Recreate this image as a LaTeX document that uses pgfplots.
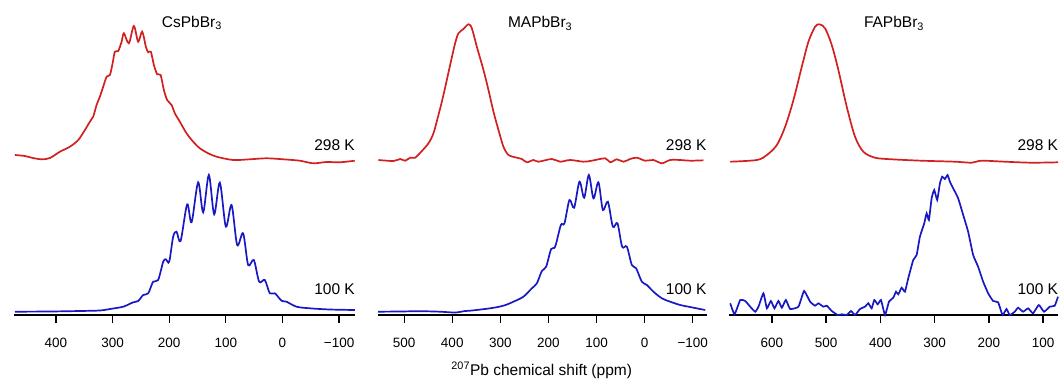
\documentclass[border=0pt]{standalone}
\usepackage{pgfplots}
\pgfplotsset{compat=1.18}
\usepackage{fontspec}
\setmainfont{Liberation Sans}
\definecolor{nred}{RGB}{210,32,32}
\definecolor{nblue}{RGB}{24,24,196}
\newcommand{\lbl}{\fontsize{15.5}{18}\selectfont}
\pgfplotsset{
  nmr/.style={
    scale only axis, height=315pt,
    axis y line=none, axis x line*=bottom,
    x axis line style={-, line width=1.8pt},
    x dir=reverse,
    ymin=0, ymax=315,
    ytick=\empty,
    tick align=outside,
    major tick length=8pt,
    xtick style={black, line width=1.3pt},
    xticklabel style={font=\fontsize{13.5}{15}\selectfont, yshift=-12pt},
    clip=false,
    enlargelimits=false,
  },
  redline/.style={nred, line width=1.7pt, smooth, tension=0.5},
  blueline/.style={nblue, line width=1.7pt, smooth, tension=0.5},
}
\begin{document}
\begin{tikzpicture}[x=1pt,y=1pt]
\useasboundingbox (0,0) rectangle (1062,381);
% ---------------- CsPbBr3 ----------------
\begin{axis}[nmr, at={(14pt,66pt)}, anchor=south west, width=341pt,
  xmin=-128, xmax=474, xtick={-100,0,100,200,300,400},
  xticklabels={−100,0,100,200,300,400}]
\addplot[redline] coordinates {
(472.4,160)(454.7,159)(440.6,157)(424.7,155.7)(410.6,157)(392.9,163.3)(375.3,168.3)
(360.6,175)(348.8,185)(340,193.3)(334.2,198.3)(328.2,210)(322.4,218.3)(316.5,228.3)
(310.5,238.3)(304.7,240)(299.9,251.7)(295.9,263.3)(290,264)(284,273.3)(280,281.7)
(271.2,271.7)(262.4,289)(254.8,273.3)(247.7,283.3)(241.2,268.3)(237.1,262.7)(232.4,263.3)
(227,250)(221.2,240.7)(215.2,240)(209.4,225)(203.6,215)(195.8,210)(190,201.7)
(181.2,193.3)(169.4,181.7)(157.7,173.3)(145.9,166.7)(131.2,161.7)(116.4,158.3)
(87.1,155)(57.6,155.7)(28.2,156.7)(-1.1,155.7)(-30.6,154.3)(-54.1,151.7)(-77.7,153)
(-101.2,152.7)(-127.6,154.3)};
\addplot[blueline] coordinates {
(472.4,3.3)(410.6,3.5)(357.6,4)(322.4,4.5)(304.7,6)(281.2,8.3)(263.6,12.7)(254.8,14)
(245.9,20)(237.1,21.7)(228.3,33.3)(219.5,35)(210.6,53.3)(205.9,55.7)(200,53.3)
(193,78.3)(187,83.3)(179.9,74)(168.3,110.7)(160.5,92.7)(148.9,132.7)(140,102.7)
(130,140)(120.6,100.7)(110.6,132.3)(100,88.3)(89.9,110)(80,70)(69.5,81.7)(60.6,50)
(50.6,55)(41.2,33.3)(31.2,35)(22.4,21.7)(13.5,21.7)(1.7,14.3)(-7.1,13.3)(-24.8,8.3)
(-48.2,6.7)(-83.5,5.5)(-127.6,5)};
\node[anchor=base, inner sep=0, font=\lbl] at (axis cs:160,287.7) {CsPbBr\textsubscript{3}};
\node[anchor=base east, inner sep=0, font=\lbl] at (axis cs:-128,164.3) {298 K};
\node[anchor=base east, inner sep=0, font=\lbl] at (axis cs:-128,21) {100 K};
\end{axis}
% ---------------- MAPbBr3 ----------------
\begin{axis}[nmr, at={(377.7pt,66pt)}, anchor=south west, width=329pt,
  xmin=-129, xmax=555, xtick={-100,0,100,200,300,400,500},
  xticklabels={−100,0,100,200,300,400,500}]
\addplot[redline] coordinates {
(553.4,155)(522.2,154)(508.3,156)(497.9,154.3)(487.5,157.3)(477.1,157.3)(463.2,164)
(449.5,171.7)(439.1,181.7)(428.7,200)(418.3,220)(404.4,250)(394,271.7)(387.1,281.7)
(376.7,286)(366.3,290.7)(359.3,286.7)(348.9,268.3)(335.1,245)(324.7,225)(314.3,203.3)
(303.9,185)(293.6,168.3)(283.2,160)(269.2,157.7)(255.3,156)(244.9,152.7)(231.2,155)
(220.8,153.3)(192.9,156)(175.7,153.3)(154.9,155)(127.2,153.3)(109.8,154.3)(82.1,156.7)
(71.7,152.7)(57.8,155.7)(44,153.3)(30.1,156)(16.2,157.3)(-1.1,154.3)(-18.3,155)
(-35.8,151.7)(-53,155)(-73.8,155)(-94.6,154.3)(-122.3,154.7)};
\addplot[blueline] coordinates {
(554.1,3.3)(508.3,3.5)(466.7,3.8)(425.2,3.3)(394,2.5)(373.2,4)(362.8,4.3)(321.2,6.7)
(293.6,9.3)(272.8,13.3)(252,18.3)(234.5,26.7)(224.1,31.7)(213.7,44)(204.8,48.3)
(194.4,66)(186.1,68.3)(174.2,90)(166.7,91.7)(156.3,115)(146.6,107.3)(135.5,133.3)
(125.8,117.3)(116,140)(106.4,116.7)(96.1,132.7)(86.9,105)(76.5,113.3)(66.1,88.3)
(56.5,91.7)(46.8,68.3)(37,68.3)(26.6,50)(17.7,46.7)(5.8,33.3)(-4.6,30)(-18.3,23.3)
(-35.8,16.7)(-53,13.3)(-73.8,10)(-91.1,8.3)(-125.8,5)};
\node[anchor=base, inner sep=0, font=\lbl] at (axis cs:217.3,287) {MAPbBr\textsubscript{3}};
\node[anchor=base east, inner sep=0, font=\lbl] at (axis cs:-129,164.3) {298 K};
\node[anchor=base east, inner sep=0, font=\lbl] at (axis cs:-129,21) {100 K};
\end{axis}
% ---------------- FAPbBr3 ----------------
\begin{axis}[nmr, at={(729pt,66pt)}, anchor=south west, width=329.3pt,
  xmin=72, xmax=679, xtick={100,200,300,400,500,600},
  xticklabels={100,200,300,400,500,600}]
\addplot[redline] coordinates {
(676.7,153.3)(627.6,155)(609.2,160)(590.8,170)(575.5,188.3)(560.2,215)(544.8,248.3)
(532.6,273.3)(520.3,288.3)(512.4,290.7)(501.9,286.7)(489.6,270)(477.4,245)(462,208.3)
(446.7,178.3)(431.4,163.3)(409.9,157.3)(379.1,155.7)(324.1,154.3)(262.6,153.3)
(231.9,152.3)(213.5,154.3)(170.6,153.3)(121.5,152.3)(72.5,152.7)};
\addplot[nblue, line width=1.7pt, smooth, tension=0.25] coordinates {
(676.7,11.7)(668.8,0.7)(658.3,15)(649.1,14)(639.9,8.3)(630.7,3.3)(624.7,8.3)(615.5,21.7)
(609.2,6.7)(601.8,14)(595.2,6.7)(587.9,14)(581.6,7.3)(574.2,15)(566.3,6)(551,8.3)
(540.6,24)(529.5,13.3)(520.3,9.3)(514.2,11.7)(505,8.3)(498.8,9.3)(489.6,4)(478.5,0)
(471.2,0.7)(461.9,0)(454,4)(446.7,0)(437.5,6)(428.3,8.3)(422.2,11.7)(416,6.7)
(411.2,15)(404.9,10.7)(398.8,15)(391.5,0)(384.1,13.3)(376.2,17.3)(371.2,23.3)
(367,20.7)(360.7,27.3)(354.7,23.3)(348.6,36.7)(339.4,55)(333.1,60)(327.1,78.3)
(319.1,91.7)(314.7,101.7)(310.5,95)(305.5,116.7)(300.7,125)(295.2,115)(290.2,131.7)
(286,138.3)(281,136)(276.1,140)(271.8,133.3)(265.8,126.7)(256.6,116.7)(247.3,100)
(238.2,83.3)(229,60)(219.8,48.3)(210.5,33.3)(201.3,21.7)(192.1,14)(182.9,12.7)
(174.8,0)(167.5,6)(161.4,0)(152.2,3.3)(146.1,7.3)(136.9,3.3)(127.7,6.7)(118.5,1.7)
(108,10)(98.3,3.3)(87.8,8.3)(78.6,9.3)(72.5,18.3)};
\node[anchor=base, inner sep=0, font=\lbl] at (axis cs:374.9,287) {FAPbBr\textsubscript{3}};
\node[anchor=base east, inner sep=0, font=\lbl] at (axis cs:72,164.3) {298 K};
\node[anchor=base east, inner sep=0, font=\lbl] at (axis cs:72,21) {100 K};
\end{axis}
\node[anchor=base, inner sep=0, font=\lbl] at (541.7,6) {\textsuperscript{207}Pb chemical shift (ppm)};
\end{tikzpicture}
\end{document}
